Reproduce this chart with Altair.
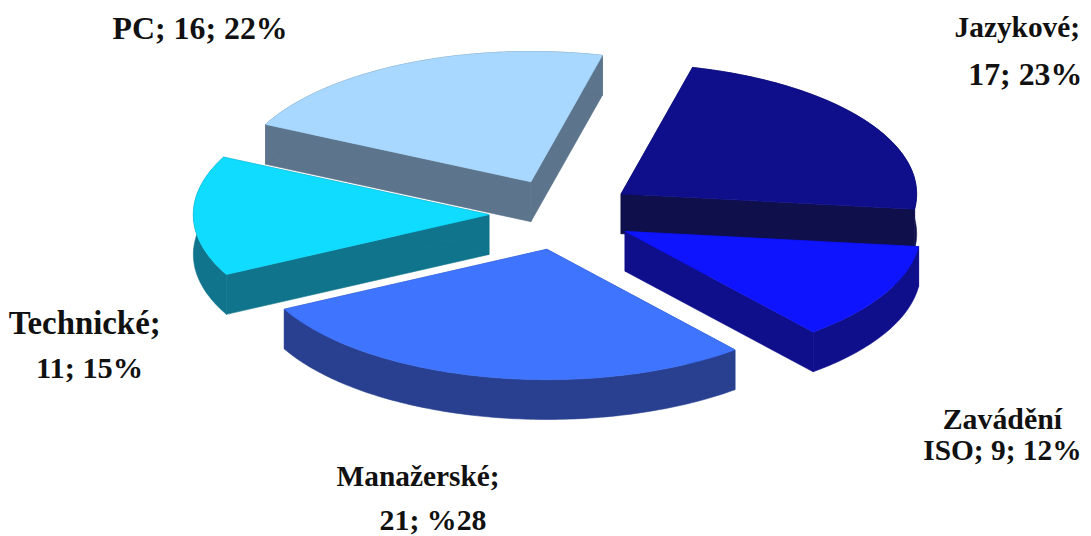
import math
import altair as alt

# Data
categories = ["Jazykové", "Zavádění ISO", "Manažerské", "Technické", "PC"]
values = [17, 9, 21, 11, 16]
top_colors = ["#0f0f8c", "#0f14ff", "#3f74ff", "#0fdcff", "#a8d8ff"]
side_colors = ["#0f0f4c", "#0f0f8c", "#28408f", "#0f748c", "#5c748c"]
draw_order = ["PC", "Jazykové", "Technické", "Zavádění ISO", "Manažerské"]

label_lines = ["PC; 16; 22%", "Jazykové;", "17; 23%", "Zavádění", "ISO; 9; 12%",
               "Manažerské;", "21; %28", "Technické;", "11; 15%"]
label_x = [192, 1013, 1021, 998, 998, 411, 426, 76, 81]
label_y = [30, 28, 76, 422, 453, 479, 523, 326, 370]
label_size = [32, 29.5, 32, 30, 29.5, 29.5, 30, 33, 30.5]

# Pie projection parameters
CX, CY, RX, RY, DEPTH, EXPLODE_X, EXPLODE_Y, START = 555, 206, 297, 131, 40, 0.245, 0.274, 76.0


def ring(points):
    return {"type": "Polygon", "coordinates": [points + [points[0]]]}


def feature(points, fill):
    return {"type": "Feature", "geometry": ring(points), "properties": {"fill": fill}}


total = sum(values)
slices = {}
angle = START
for name, v, top, side in zip(categories, values, top_colors, side_colors):
    sweep = 360.0 * v / total
    slices[name] = (angle, angle - sweep, top, side)
    angle -= sweep

features = []
for name in draw_order:
    a0, a1, top, side = slices[name]
    mid = math.radians((a0 + a1) / 2)
    ox = CX + EXPLODE_X * RX * math.cos(mid)
    oy = CY - EXPLODE_Y * RY * math.sin(mid)
    n = max(2, int(a0 - a1))
    rim = []
    for i in range(n + 1):
        t = math.radians(a0 + (a1 - a0) * i / n)
        rim.append([ox + RX * math.cos(t), oy - RY * math.sin(t)])
    down = lambda p: [p[0], p[1] + DEPTH]
    apex = [ox, oy]
    features.append(feature([apex, rim[0], down(rim[0]), down(apex)], side))
    features.append(feature([apex, rim[-1], down(rim[-1]), down(apex)], side))
    features.append(feature(rim + [down(p) for p in reversed(rim)], side))
    features.append(feature([apex] + rim, top))

pie = (
    alt.Chart(alt.Data(values=features))
    .mark_geoshape(strokeWidth=0.6)
    .encode(
        color=alt.Color("properties.fill:N", scale=None),
        stroke=alt.Stroke("properties.fill:N", scale=None),
    )
    .project(type="identity", scale=1, translate=[0, 0], reflectY=False)
)

labels_table = [{"t": t, "x": x, "y": y, "s": s}
                for t, x, y, s in zip(label_lines, label_x, label_y, label_size)]
labels = (
    alt.Chart(alt.Data(values=labels_table))
    .mark_text(font="Liberation Serif", fontWeight="bold",
               color="#111111", align="center", baseline="alphabetic")
    .encode(x=alt.X("x:Q", scale=None, axis=None),
            y=alt.Y("y:Q", scale=None, axis=None),
            size=alt.Size("s:Q", scale=None, legend=None),
            text="t:N")
)

chart = (
    alt.layer(pie, labels)
    .properties(width=1075, height=528, padding=0, background="white")
    .configure_view(stroke=None)
)
chart.save("out.html", embed_options={"renderer": "svg", "actions": False})
